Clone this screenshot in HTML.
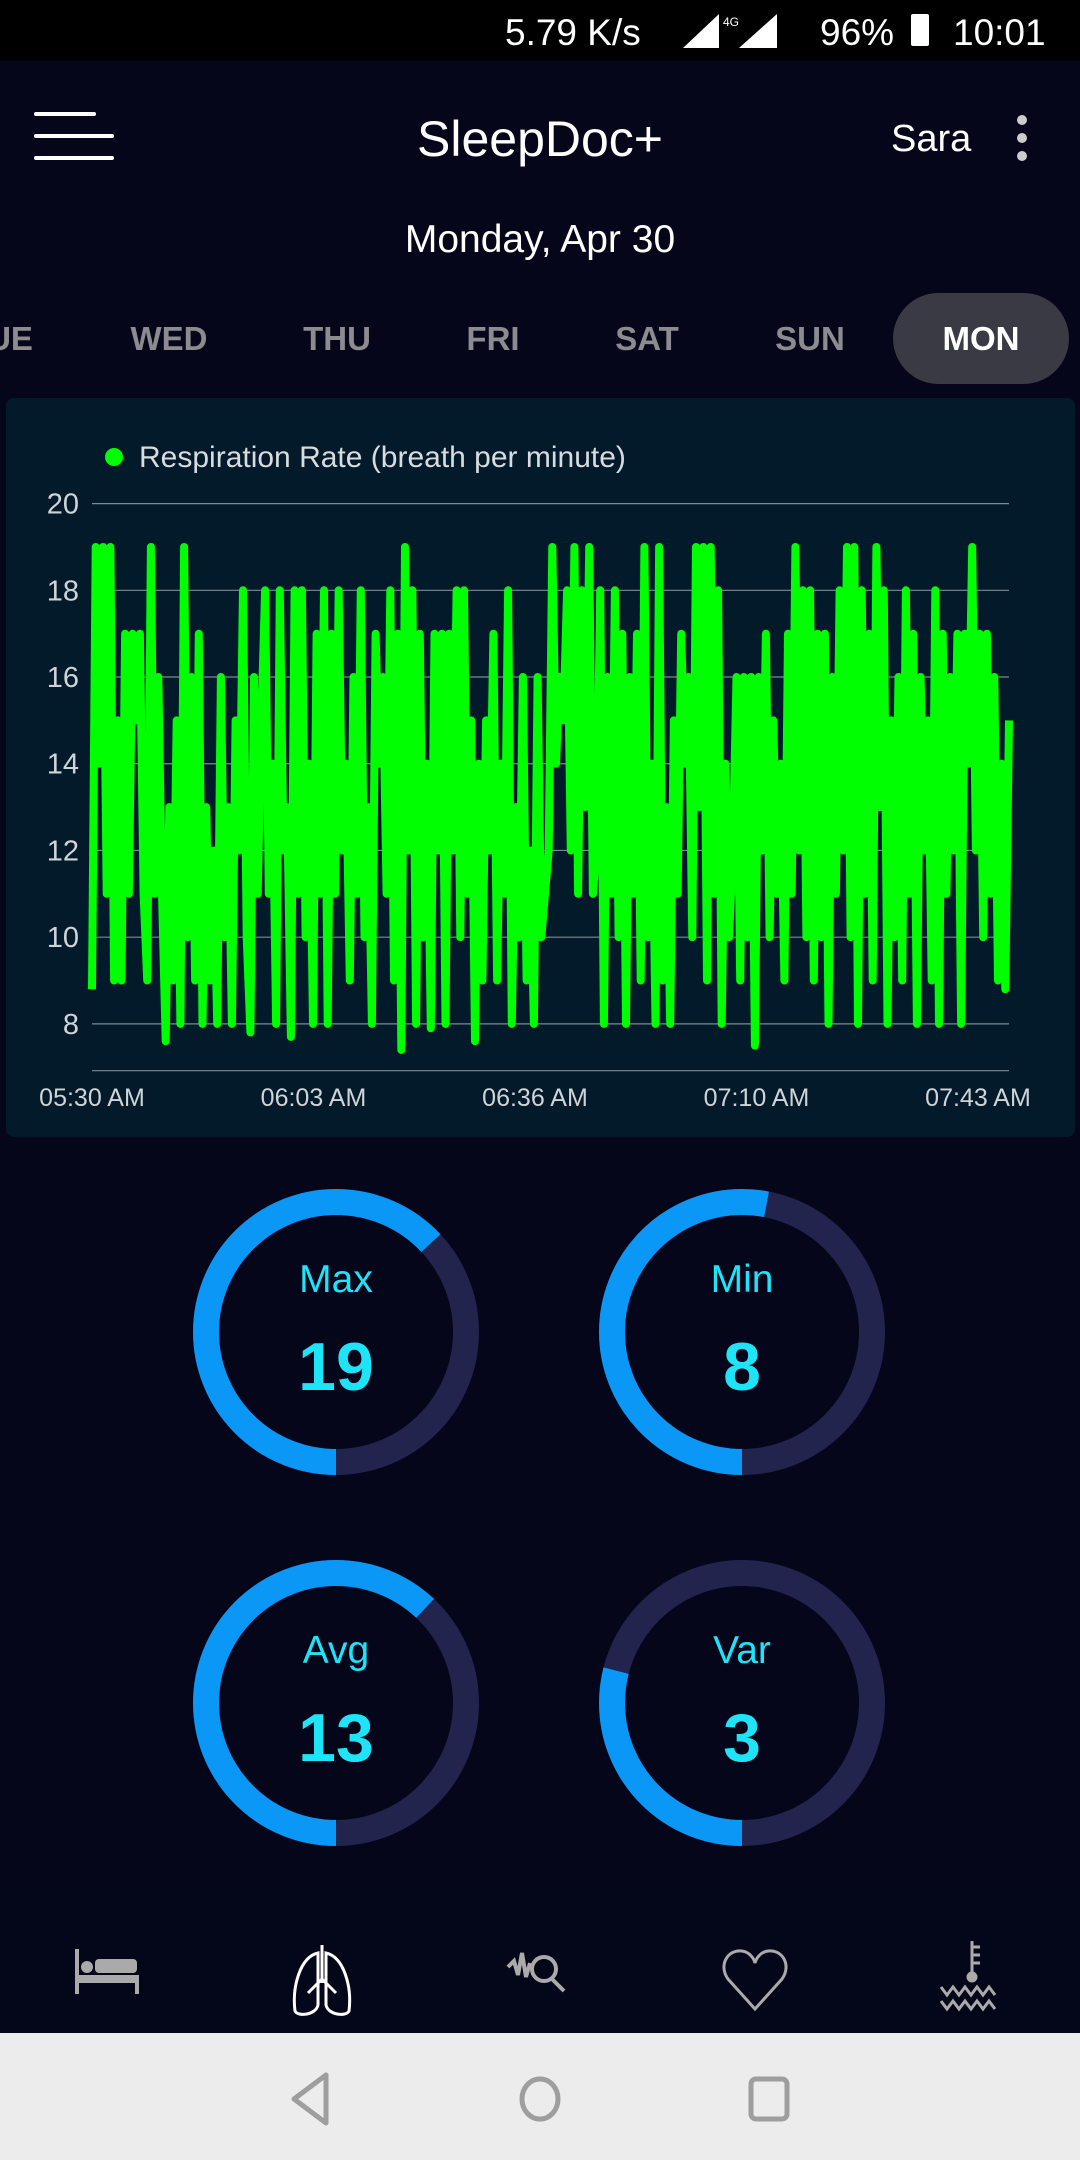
<!DOCTYPE html>
<html><head><meta charset="utf-8"><style>
*{margin:0;padding:0;box-sizing:border-box}
body{width:1080px;height:2160px;background:#05061a;font-family:"Liberation Sans",sans-serif;position:relative;overflow:hidden;color:#fff}
.abs{position:absolute}
.tab{position:absolute;top:320px;font-size:33px;font-weight:bold;color:#8b8b90;transform:translateX(-50%)}
</style></head><body>
<div class="abs" style="left:0;top:0;width:1080px;height:61px;background:#000">
 <div class="abs" style="left:505px;top:12px;font-size:37px">5.79 K/s</div>
 <svg class="abs" style="left:683px;top:14px" width="110" height="36"><polygon points="0,34 36,34 36,0" fill="#fff"/><text x="40" y="12" font-size="12" fill="#fff" font-family="Liberation Sans">4G</text><polygon points="56,34 94,34 94,0" fill="#fff"/></svg>
 <div class="abs" style="left:820px;top:12px;font-size:37px">96%</div>
 <div class="abs" style="left:911px;top:14px;width:18px;height:32px;background:#fff;border-radius:2px"></div>
 <div class="abs" style="left:953px;top:12px;font-size:37px">10:01</div>
</div>
<svg class="abs" style="left:34px;top:112px" width="82" height="52"><rect x="0" y="0" width="62" height="4" fill="#fff" rx="2"/><rect x="0" y="22" width="80" height="4" fill="#fff" rx="2"/><rect x="0" y="44" width="80" height="4" fill="#fff" rx="2"/></svg>
<div class="abs" style="left:0;width:1080px;top:110px;text-align:center;font-size:50px">SleepDoc+</div>
<div class="abs" style="left:891px;top:118px;font-size:38px">Sara</div>
<svg class="abs" style="left:1012px;top:114px" width="20" height="48"><circle cx="10" cy="6" r="5" fill="#ccc"/><circle cx="10" cy="24" r="5" fill="#ccc"/><circle cx="10" cy="42" r="5" fill="#ccc"/></svg>
<div class="abs" style="left:0;width:1080px;top:218px;text-align:center;font-size:39px">Monday, Apr 30</div>
<div class="tab" style="left:10px">UE</div>
<div class="tab" style="left:169px">WED</div>
<div class="tab" style="left:337px">THU</div>
<div class="tab" style="left:493px">FRI</div>
<div class="tab" style="left:647px">SAT</div>
<div class="tab" style="left:810px">SUN</div>
<div class="abs" style="left:893px;top:293px;width:176px;height:91px;border-radius:46px;background:#3a3a44"></div>
<div class="tab" style="left:981px;color:#fff">MON</div>

<div class="abs" style="left:6px;top:398px;width:1069px;height:739px;background:#021a2a;border-radius:8px"></div>
<svg id="chart" class="abs" style="left:0;top:0" width="1080" height="1160"></svg>

<svg class="abs" style="left:0;top:1160px" width="1080" height="720" id="donuts"></svg>

<div class="abs" style="left:0;top:1887px;width:1080px;height:146px;background:#04061a"></div>
<svg class="abs" style="left:0;top:1887px" width="1080" height="146">
 <g fill="#aaa"><rect x="75" y="62" width="4" height="45"/><rect x="75" y="88" width="64" height="8"/><rect x="135" y="88" width="4" height="19"/><circle cx="87" cy="80" r="6"/><rect x="95" y="72" width="42" height="14" rx="4"/></g>
 <g fill="none" stroke="#fff" stroke-width="3"><path d="M318 66 C300 70 292 100 295 124 C298 130 316 128 318 118 Z"/><path d="M326 66 C344 70 352 100 349 124 C346 130 328 128 326 118 Z"/><path d="M322 58 V96 M322 92 L308 106 M322 92 L336 106"/></g>
 <g fill="none" stroke="#aaa" stroke-width="4"><path d="M508 80 L514 74 L518 88 L522 66 L526 90 L530 76"/><circle cx="544" cy="82" r="12"/><path d="M552 92 L564 104"/></g>
 <path d="M755 122 L728 92 C718 78 728 62 742 64 C750 65 754 72 755 76 C756 72 760 65 768 64 C782 62 792 78 782 92 Z" fill="none" stroke="#aaa" stroke-width="3"/>
 <g fill="none" stroke="#aaa" stroke-width="3"><path d="M972 54 V88 M972 60 H980 M972 68 H980 M972 76 H980"/><circle cx="972" cy="90" r="4" fill="#aaa"/><path d="M941 100 l6 8 l6 -8 l6 8 l6 -8 l6 8 l6 -8 l6 8 l6 -8 l6 8 M941 114 l6 8 l6 -8 l6 8 l6 -8 l6 8 l6 -8 l6 8 l6 -8 l6 8"/></g>
</svg>
<div class="abs" style="left:0;top:2033px;width:1080px;height:127px;background:#ececec"></div>
<svg class="abs" style="left:0;top:2033px" width="1080" height="127">
 <path d="M326 42 L294 66 L326 90 Z" fill="none" stroke="#9e9e9e" stroke-width="5" stroke-linejoin="round"/>
 <ellipse cx="540" cy="66" rx="18" ry="20" fill="none" stroke="#9e9e9e" stroke-width="5"/>
 <rect x="751" y="46" width="36" height="40" rx="5" fill="none" stroke="#9e9e9e" stroke-width="5"/>
</svg>

<script>
const yTicks=[8,10,12,14,16,18,20];
const xLabels=["05:30 AM","06:03 AM","06:36 AM","07:10 AM","07:43 AM"];
const resp=[8.8,19,14,19,11,19,9,15,9,17,11,17,15,17,11,9,19,11,16,11,7.6,13,9,15,8,19,10,16,9,17,8,13,9,12,8,16,10,13,8,15,12,18,10,7.8,16,11,15,18,11,14,8,18,12,13,7.7,18,11,18,10,14,8,17,11,18,8,17,11,18,12,14,9,16,11,18,10,13,8,17,14,16,11,18,9,17,7.4,19,12,18,8,17,10,14,7.9,17,12,17,8,17,12,18,10,18,11,15,7.6,14,9,15,12,17,9,14,11,18,8,13,10,16,9,12,8,16,10,11,12,19,14,16,15,18,12,19,11,18,13,19,11,12,18,8,16,11,18,10,17,8,16,11,17,9,19,10,14,8,19,9,13,8,15,11,17,14,16,10,19,13,19,9,19,11,18,8,14,10,12,16,9,16,10,16,7.5,16,12,17,10,15,11,14,9,17,11,19,12,18,10,18,9,17,10,17,8,16,11,18,12,19,10,19,8,18,11,17,9,19,13,18,8,15,10,16,9,18,11,17,8,16,12,15,9,18,8,17,11,16,12,17,8,17,14,19,12,17,10,17,11,16,9,14,8.8,15];
const yMin=6.92, yMax=20, px0=92, px1=1009, pyTop=503.6, pyBot=1070.7;
function sx(i){return px0+(px1-px0)*i/(resp.length-1);}
function sy(v){return pyBot-(v-yMin)/(yMax-yMin)*(pyBot-pyTop);}
const NS="http://www.w3.org/2000/svg";
const svg=document.getElementById('chart');
function mk(t,a){const e=document.createElementNS(NS,t);for(const k in a)e.setAttribute(k,a[k]);svg.appendChild(e);return e;}
yTicks.forEach(v=>{
 const l=mk('line',{x1:px0,x2:px1,y1:sy(v),y2:sy(v),stroke:'#7d8a93','stroke-width':1.2});
 
 
 const t=mk('text',{x:79,y:sy(v)+10,'text-anchor':'end','font-size':29,fill:'#d0d4d8','font-family':'Liberation Sans'});
 t.textContent=v;
 
 
});
const ax=mk('line',{x1:px0,x2:px1,y1:pyBot,y2:pyBot,stroke:'#7d8a93','stroke-width':1.2});


xLabels.forEach((s,i)=>{
 const t=mk('text',{x:px0+(978-px0)*i/(xLabels.length-1),y:1106,'text-anchor':'middle','font-size':25,fill:'#d0d4d8','font-family':'Liberation Sans'});
 t.textContent=s;
 
 
});
const path=mk('path',{d:resp.map((v,i)=>(i?'L':'M')+sx(i).toFixed(1)+' '+sy(v).toFixed(1)).join(''),fill:'none',stroke:'#00ff00','stroke-width':8,'stroke-linejoin':'round'});


const ld=mk('circle',{cx:114,cy:457,r:9,fill:'#00ff00'});


const lt=mk('text',{x:139,y:467,'font-size':30,fill:'#d8dce0','font-family':'Liberation Sans'});
lt.textContent='Respiration Rate (breath per minute)';



const statNames=["Max","Min","Avg","Var"];
const statValues=[19,8,13,3];
const statFractions=[0.63,0.53,0.62,0.29];
const cxs=[336,742,336,742], cys=[172,172,543,543];
const d=document.getElementById('donuts');
function mk2(t,a){const e=document.createElementNS(NS,t);for(const k in a)e.setAttribute(k,a[k]);d.appendChild(e);return e;}
statNames.forEach((n,i)=>{
 const r=130, C=2*Math.PI*r;
 const tr=mk2('circle',{cx:cxs[i],cy:cys[i],r:r,fill:'none',stroke:'#22244d','stroke-width':26});
 
 
 const pr=mk2('circle',{cx:cxs[i],cy:cys[i],r:r,fill:'none',stroke:'#0a97f5','stroke-width':26,'stroke-dasharray':(C*statFractions[i])+' '+C,transform:`rotate(90 ${cxs[i]} ${cys[i]})`});
 
 
 const t1=mk2('text',{x:cxs[i],y:cys[i]-40,'text-anchor':'middle','font-size':39,fill:'#1fe3f7','font-family':'Liberation Sans'});
 t1.textContent=n;
 
 
 const t2=mk2('text',{x:cxs[i],y:cys[i]+58,'text-anchor':'middle','font-size':68,'font-weight':'bold',fill:'#1fe3f7','font-family':'Liberation Sans'});
 t2.textContent=statValues[i];
 
 
});
</script>
</body></html>
